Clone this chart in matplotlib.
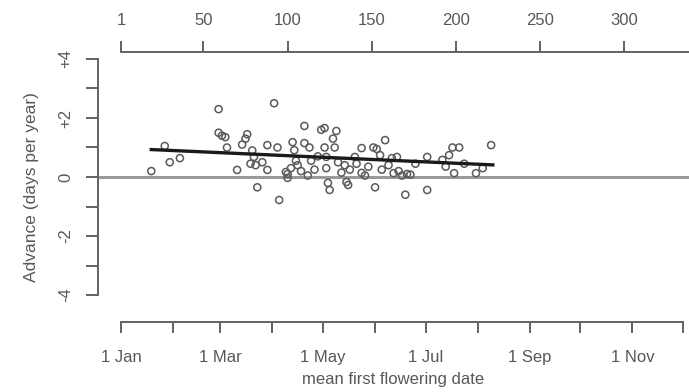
import numpy as np
import matplotlib
matplotlib.use("Agg")
import matplotlib.pyplot as plt

# mean first flowering date (day of year) and advance (days per year)
flower_day = [19, 27, 30, 36, 59, 59, 61, 63, 64, 70, 73, 75, 76, 78, 79, 80, 81, 82,
              85, 88, 88, 92, 94, 95, 99, 100, 100, 102, 103, 104, 105, 106, 108, 110,
              110, 112, 113, 114, 116, 118, 120, 122, 122, 123, 123, 124, 125, 127, 128,
              129, 130, 132, 134, 135, 136, 137, 140, 141, 144, 144, 146, 148, 151, 152,
              153, 155, 156, 158, 160, 162, 163, 165, 166, 168, 170, 171, 173, 176, 183,
              183, 192, 194, 196, 198, 199, 202, 205, 212, 216, 221]
advance = [0.20, 1.05, 0.50, 0.64, 2.30, 1.50, 1.40, 1.35, 1.00, 0.24, 1.10, 1.30, 1.45,
           0.45, 0.90, 0.68, 0.40, -0.35, 0.50, 1.08, 0.24, 2.50, 1.00, -0.78, 0.17, 0.10,
           -0.03, 0.30, 1.18, 0.91, 0.55, 0.40, 0.20, 1.73, 1.15, 0.05, 1.00, 0.55, 0.25,
           0.70, 1.60, 1.66, 1.00, 0.68, 0.30, -0.20, -0.44, 1.30, 1.00, 1.56, 0.50, 0.15,
           0.40, -0.17, -0.27, 0.25, 0.68, 0.45, 0.98, 0.14, 0.05, 0.35, 1.00, -0.35, 0.95,
           0.74, 0.25, 1.25, 0.40, 0.64, 0.13, 0.68, 0.20, 0.05, -0.60, 0.10, 0.08, 0.45,
           0.68, -0.44, 0.58, 0.35, 0.74, 1.00, 0.13, 1.00, 0.45, 0.13, 0.30, 1.08]

# fitted trend, read at its two ends
trend_day = [19, 222]
trend_val = [0.93, 0.41]

month_days = [1, 32, 60, 91, 121, 152, 182, 213, 244, 274, 305, 335]
month_labels = ["1 Jan", "", "1 Mar", "", "1 May", "", "1 Jul", "", "1 Sep", "", "1 Nov", ""]
top_ticks = [1, 50, 100, 150, 200, 250, 300]
y_ticks = [-4, -3, -2, -1, 0, 1, 2, 3, 4]
y_labels = ["-4", "", "-2", "", "0", "", "+2", "", "+4"]

plt.rcParams["font.family"] = ["Liberation Sans", "DejaVu Sans"]
axcol = "#626262"
txtcol = "#585858"
fs = 12

fig = plt.figure(figsize=(6.89, 3.92), dpi=100)
ax = fig.add_axes([98 / 689, 70 / 392, 591 / 689, 270 / 392])
xmin, xmax = -12.67, 338.6
ax.set_xlim(xmin, xmax)
ax.set_ylim(-4.915, 4.237)

ax.axhline(0, color="#9a9a9a", lw=2.2, zorder=1)
ax.scatter(flower_day, advance, s=26, facecolors="none", edgecolors="#5a5a5a",
           linewidths=1.1, zorder=3)
ax.plot(trend_day, trend_val, color="#1a1a1a", lw=2.4, zorder=4)

for side in ["top", "right"]:
    ax.spines[side].set_visible(False)
ax.spines["left"].set_bounds(-4, 4)
ax.spines["bottom"].set_bounds(1, 335)
for side in ["left", "bottom"]:
    ax.spines[side].set_color(axcol)
    ax.spines[side].set_linewidth(1.4)

ax.set_xticks(month_days)
ax.set_xticklabels(month_labels)
ax.set_yticks(y_ticks)
ax.set_yticklabels(y_labels, rotation=90, va="center")
ax.tick_params(axis="both", colors=axcol, labelcolor=txtcol, width=1.4, labelsize=fs)
ax.tick_params(axis="x", length=8, pad=12)
ax.tick_params(axis="y", length=9, pad=9)

ax.set_xlabel("mean first flowering date", fontsize=fs, color=txtcol, labelpad=5)
ax.set_ylabel("Advance (days per year)", fontsize=12.5, color=txtcol, labelpad=14)

top = ax.twiny()
top.set_xlim(xmin, xmax)
for side in ["left", "right", "bottom"]:
    top.spines[side].set_visible(False)
top.spines["top"].set_bounds(1, xmax)
top.spines["top"].set_color(axcol)
top.spines["top"].set_linewidth(1.4)
top.set_xticks(top_ticks)
top.tick_params(axis="x", colors=axcol, labelcolor=txtcol, width=1.4, length=8,
                labelsize=fs, pad=9)

fig.savefig("out.png", dpi=100)
